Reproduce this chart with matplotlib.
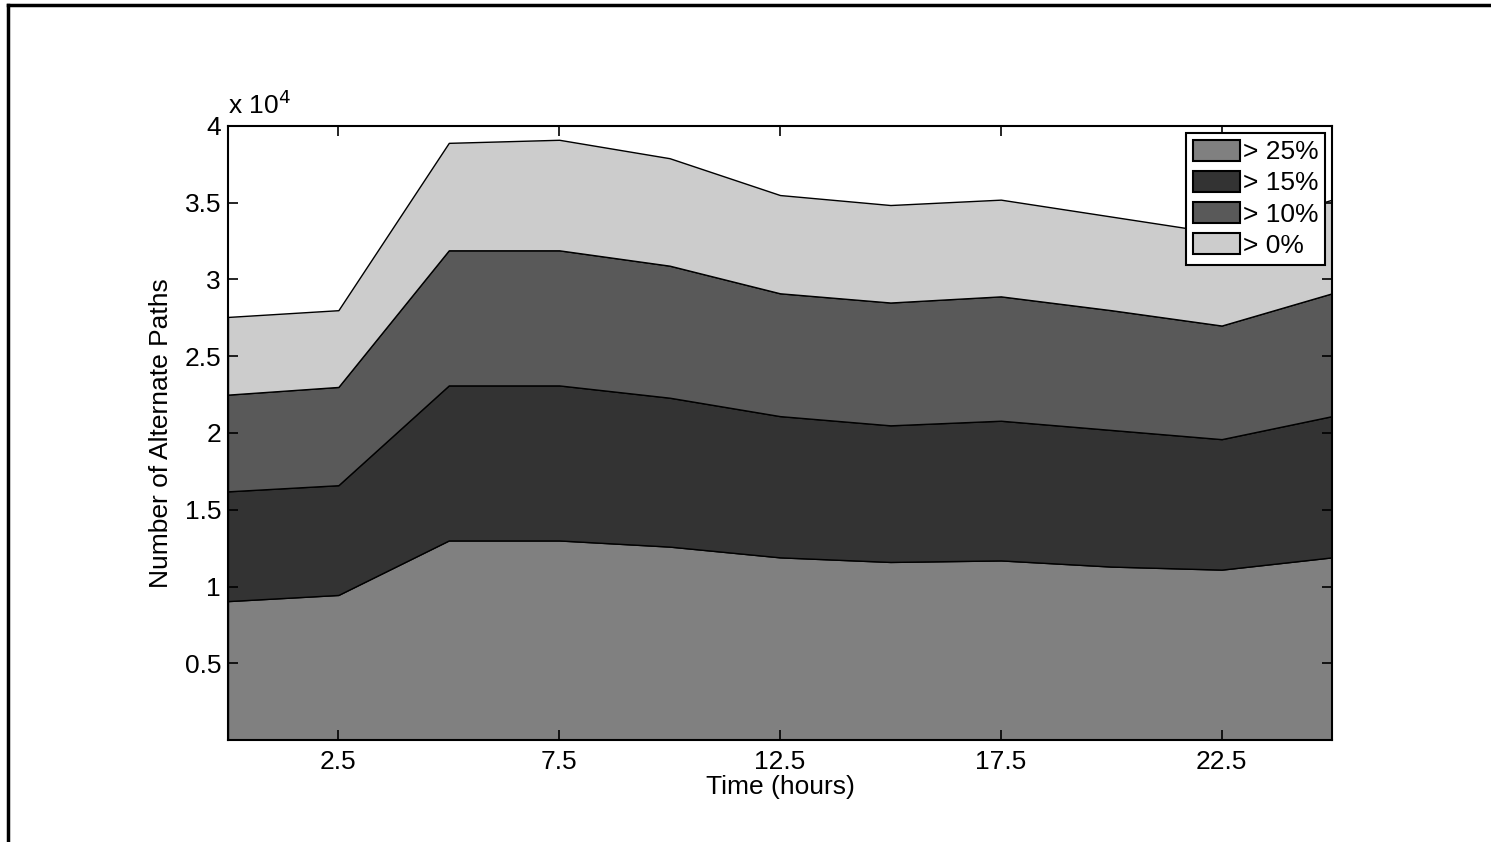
import matplotlib.pyplot as plt
from matplotlib.lines import Line2D
from matplotlib.ticker import FuncFormatter

plt.rcParams['font.family'] = ['Liberation Sans', 'DejaVu Sans']

hours = [0, 2.5, 5, 7.5, 10, 12.5, 15, 17.5, 20, 22.5, 25]
# layer sizes (number of alternate paths per threshold band)
over25 = [9050, 9450, 13000, 13000, 12600, 11900, 11600, 11700, 11300, 11100, 11900]
over15 = [7150, 7150, 10100, 10100, 9700, 9200, 8900, 9100, 8900, 8500, 9200]
over10 = [6300, 6400, 8800, 8800, 8600, 8000, 8000, 8100, 7800, 7400, 8000]
over0 = [5060, 5000, 7000, 7200, 7000, 6400, 6350, 6300, 6100, 6000, 6100]
labels = ["> 25%", "> 15%", "> 10%", "> 0%"]
colors = ["#808080", "#333333", "#595959", "#cccccc"]
xticks = [2.5, 7.5, 12.5, 17.5, 22.5]
yticks = [5000, 10000, 15000, 20000, 25000, 30000, 35000, 40000]

FS = 19

fig = plt.figure(figsize=(14.91, 8.42), dpi=100)
ax = fig.add_axes([0.1529, 0.1211, 0.7405, 0.7293])

ax.stackplot(hours, over25, over15, over10, over0, colors=colors,
             labels=labels, edgecolor="black", linewidth=1)

ax.set_xlim(0, 25)
ax.set_ylim(0, 40000)
ax.set_xticks(xticks)
ax.set_xticklabels([str(t) for t in xticks])
ax.set_yticks(yticks)
ax.yaxis.set_major_formatter(FuncFormatter(lambda v, p: f"{v / 1e4:g}"))
ax.tick_params(direction="in", top=True, right=True, length=7, width=1.2,
               labelsize=FS)
ax.tick_params(axis="x", pad=7)
ax.tick_params(axis="y", pad=5)
for s in ax.spines.values():
    s.set_linewidth(1.5)
ax.set_axisbelow(False)

ax.text(0.0, 1.012, r"x 10$^4$", transform=ax.transAxes, fontsize=FS,
        ha="left", va="bottom")
ax.set_xlabel("Time (hours)", fontsize=FS, labelpad=1)
ax.set_ylabel("Number of Alternate Paths", fontsize=FS, labelpad=8)

leg = ax.legend(loc="upper right", bbox_to_anchor=(0.9937, 0.9886), fontsize=FS,
                fancybox=False, framealpha=1, edgecolor="black",
                handlelength=1.8, handleheight=0.85, handletextpad=0.1,
                borderpad=0.25, labelspacing=0.25, borderaxespad=0)
leg.get_frame().set_linewidth(1.5)
for h in leg.legend_handles:
    h.set_edgecolor("black")
    h.set_linewidth(1.5)

# page border
fig.add_artist(Line2D([0.0054, 1.0], [0.994, 0.994], color="black", lw=2.5,
                      transform=fig.transFigure))
fig.add_artist(Line2D([0.0054, 0.0054], [0.0, 0.994], color="black", lw=2.5,
                      transform=fig.transFigure))

fig.savefig("out.png", dpi=100)
